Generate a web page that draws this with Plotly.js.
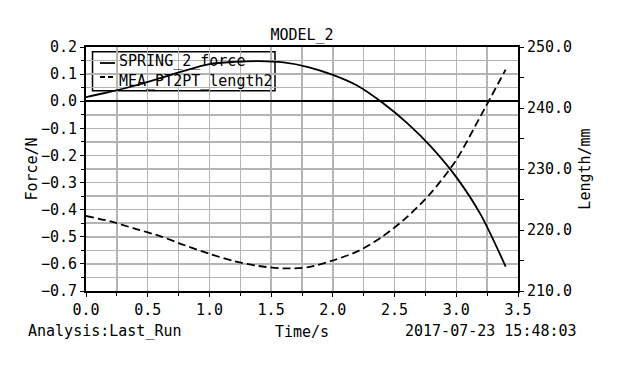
<!DOCTYPE html>
<html>
<head>
<meta charset="utf-8">
<script src="https://cdn.plot.ly/plotly-3.0.1.min.js"></script>
<style>html,body{margin:0;padding:0;background:#fff;}#chart{width:620px;height:377px;}</style>
</head>
<body>
<div id="chart"></div>
<script>
// ---- data ----
var time = [0.0, 0.2, 0.4, 0.6, 0.8, 1.0, 1.2, 1.4, 1.6, 1.8, 2.0, 2.2, 2.4, 2.6, 2.8, 3.0, 3.2, 3.4];
var springForce = [0.015, 0.035, 0.058, 0.085, 0.113, 0.137, 0.145, 0.148, 0.143, 0.126, 0.097, 0.057, -0.005, -0.08, -0.17, -0.28, -0.42, -0.61];
var pt2ptLength = [222.3, 221.4, 220.2, 219.0, 217.5, 216.1, 214.9, 214.1, 213.7, 213.9, 215.0, 216.5, 218.9, 222.1, 226.2, 231.5, 238.8, 246.3];
var seriesNames = ["SPRING_2_force", "MEA_PT2PT_length2"];
var titleText = "MODEL_2";
var xTitle = "Time/s";
var yTitle = "Force/N";
var y2Title = "Length/mm";
var footLeft = "Analysis:Last_Run";
var footRight = "2017-07-23 15:48:03";

var FONT = "DejaVu Sans Mono, monospace";
var GRID = "#b4b4b4";

var traces = [
  {x: time, y: springForce, name: seriesNames[0], type: "scatter", mode: "lines",
   line: {color: "#000", width: 1.8, shape: "spline", smoothing: 0.8}, yaxis: "y"},
  {x: time, y: pt2ptLength, name: seriesNames[1], type: "scatter", mode: "lines",
   line: {color: "#000", width: 1.8, dash: "8px,4px", shape: "spline", smoothing: 0.8}, yaxis: "y2"}
];

function px2x(p){ return (p - 86) / 432; }
function px2y(p){ return 1 - (p - 47) / 244; }

var layout = {
  width: 620, height: 377,
  margin: {l: 86, r: 102, t: 47, b: 86},
  paper_bgcolor: "#fff", plot_bgcolor: "#fff",
  showlegend: false,
  font: {family: FONT, size: 15, color: "#000"},
  title: {text: titleText, font: {family: FONT, size: 15, color: "#000"}, x: 0.4871, xanchor: "center", y: 0.907, yanchor: "middle"},
  xaxis: {
    range: [0, 3.5], tick0: 0, dtick: 0.5, tickformat: ".1f",
    showgrid: true, gridcolor: GRID, gridwidth: 1.5,
    minor: {dtick: 0.25, showgrid: true, gridcolor: GRID, gridwidth: 1.5, ticks: "outside", ticklen: 3, tickcolor: "#000"},
    ticks: "outside", ticklen: 4, tickcolor: "#000", tickwidth: 1,
    showline: true, linecolor: "#000", linewidth: 2, mirror: true,
    zeroline: false,
    tickfont: {family: FONT, size: 15},
    title: {text: xTitle, font: {family: FONT, size: 15}, standoff: 8}
  },
  yaxis: {
    range: [-0.7, 0.2], tick0: 0, dtick: 0.1, tickformat: ".1f",
    showgrid: true, gridcolor: GRID, gridwidth: 1.5,
    minor: {dtick: 0.05, showgrid: true, gridcolor: GRID, gridwidth: 1.5, ticks: "outside", ticklen: 3, tickcolor: "#000"},
    ticks: "outside", ticklen: 4, tickcolor: "#000", tickwidth: 1,
    showline: true, linecolor: "#000", linewidth: 2, mirror: true,
    zeroline: true, zerolinecolor: "#000", zerolinewidth: 2,
    tickfont: {family: FONT, size: 15},
    title: {text: yTitle, font: {family: FONT, size: 15}, standoff: 0}
  },
  yaxis2: {
    overlaying: "y", side: "right", anchor: "x",
    range: [210, 250], tick0: 210, dtick: 10, tickformat: ".1f",
    showgrid: false, zeroline: false,
    minor: {dtick: 5, ticks: "outside", ticklen: 4, tickcolor: "#000", showgrid: false},
    ticks: "outside", ticklen: 4, tickcolor: "#000", tickwidth: 1,
    showline: true, linecolor: "#000", linewidth: 2,
    tickfont: {family: FONT, size: 15},
    title: {text: y2Title, font: {family: FONT, size: 15}, standoff: 8}
  },
  shapes: [
    {type: "rect", xref: "paper", yref: "paper", x0: px2x(92.5), x1: px2x(275), y0: px2y(90.7), y1: px2y(51.7),
     fillcolor: "#fff", line: {color: "#000", width: 1.5}, layer: "between"},
    {type: "line", xref: "paper", yref: "paper", x0: px2x(100), x1: px2x(115), y0: px2y(63), y1: px2y(63),
     line: {color: "#000", width: 1.8}},
    {type: "line", xref: "paper", yref: "paper", x0: px2x(100), x1: px2x(115), y0: px2y(77), y1: px2y(77),
     line: {color: "#000", width: 1.8, dash: "5px,3px"}}
  ],
  annotations: [
    {xref: "paper", yref: "paper", x: px2x(118), y: px2y(71), xanchor: "left", yanchor: "middle", align: "left",
     text: seriesNames[0] + "<br>" + seriesNames[1], showarrow: false, font: {family: FONT, size: 15},
     bgcolor: "rgba(0,0,0,0)", borderpad: 0},
    {xref: "paper", yref: "paper", x: px2x(26), y: px2y(331), xanchor: "left", yanchor: "middle",
     text: footLeft, showarrow: false, font: {family: FONT, size: 15}},
    {xref: "paper", yref: "paper", x: px2x(579), y: px2y(331), xanchor: "right", yanchor: "middle",
     text: footRight, showarrow: false, font: {family: FONT, size: 15}}
  ]
};

Plotly.newPlot("chart", traces, layout, {displayModeBar: false, staticPlot: true});
</script>
</body>
</html>
